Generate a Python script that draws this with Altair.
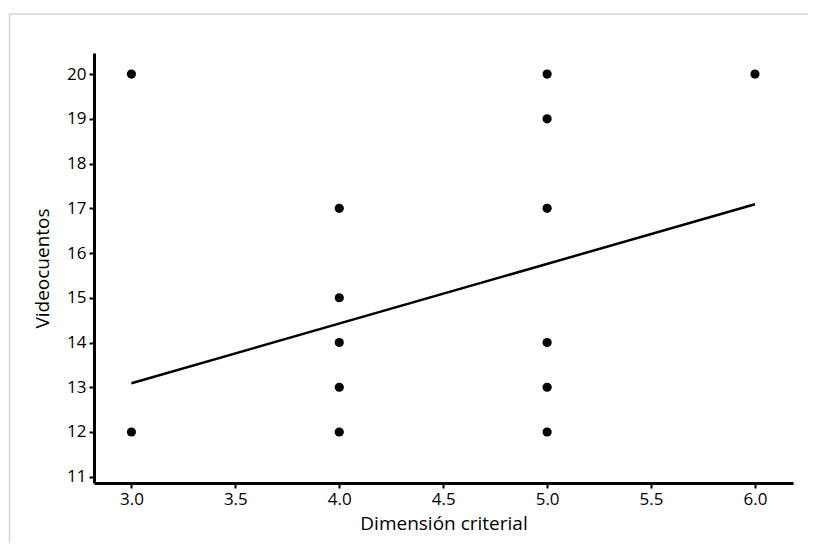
import altair as alt
import pandas as pd

x_vals = [3, 3, 4, 4, 4, 4, 4, 5, 5, 5, 5, 5, 5, 6]
y_vals = [20, 12, 17, 15, 14, 13, 12, 20, 19, 17, 14, 13, 12, 20]
line_x = [3.0, 6.0]
line_y = [13.09, 17.09]

pts = pd.DataFrame({"x": x_vals, "y": y_vals})
ln = pd.DataFrame({"x": line_x, "y": line_y})

FONT = "Open Sans"

xscale = alt.Scale(domain=[2.82, 6.183], nice=False, zero=False)
yscale = alt.Scale(domain=[10.86, 20.47], nice=False, zero=False)

xaxis = alt.Axis(title="Dimensión criterial", values=[3.0, 3.5, 4.0, 4.5, 5.0, 5.5, 6.0], format=".1f",
                 grid=False, domainColor="black", domainWidth=3, tickColor="black", tickWidth=2,
                 tickSize=5, labelPadding=3, labelFontSize=17, labelColor="black", labelFontWeight=500,
                 titleFontSize=19, titleFontWeight=500, titleColor="black", titlePadding=7,
                 labelFont=FONT, titleFont=FONT)
yaxis = alt.Axis(title="Videocuentos", values=list(range(11, 21)), format="d",
                 grid=False, domainColor="black", domainWidth=3, tickColor="black", tickWidth=2,
                 tickSize=5, labelPadding=3, labelFontSize=17, labelColor="black", labelFontWeight=500,
                 titleFontSize=19, titleFontWeight=500, titleColor="black", titlePadding=14,
                 labelFont=FONT, titleFont=FONT)

frame = alt.Chart(pd.DataFrame({"a": [0]})).mark_rect(
    fill=None, stroke="#d3d3d3", strokeWidth=1.5, clip=False
).encode(x=alt.value(-84.5), x2=alt.value(900), y=alt.value(-39), y2=alt.value(700))

points = alt.Chart(pts).mark_circle(size=85, color="black", opacity=1).encode(
    x=alt.X("x:Q", scale=xscale, axis=xaxis),
    y=alt.Y("y:Q", scale=yscale, axis=yaxis),
)

line = alt.Chart(ln).mark_line(color="black", strokeWidth=2.5).encode(
    x=alt.X("x:Q", scale=xscale),
    y=alt.Y("y:Q", scale=yscale),
)

chart = alt.layer(frame, points, line).properties(
    width=699, height=430,
    autosize=alt.AutoSizeParams(type="none"),
    padding={"left": 86, "top": 45, "right": 15, "bottom": 60},
    background="white",
).configure_view(stroke=None)

chart.save("out.html", embed_options={"renderer": "svg", "actions": False})
